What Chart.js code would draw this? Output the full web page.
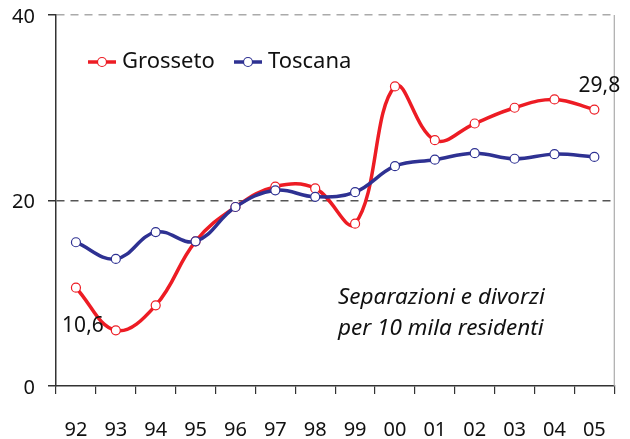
<!DOCTYPE html>
<html>
<head>
<meta charset="utf-8">
<title>Separazioni e divorzi</title>
<script src="https://cdn.jsdelivr.net/npm/chart.js"></script>
<style>
  html, body { margin: 0; padding: 0; background: #fff; }
  #wrap { width: 630px; height: 439px; }
</style>
</head>
<body>
<div id="wrap"><canvas id="chart"></canvas></div>
<script>
// dati: separazioni e divorzi per 10 mila residenti
const anni = ['92', '93', '94', '95', '96', '97', '98', '99', '00', '01', '02', '03', '04', '05'];
const grosseto = [10.6, 6.0, 8.7, 15.6, 19.3, 21.5, 21.3, 17.5, 32.3, 26.5, 28.3, 30.0, 30.9, 29.8];
const toscana = [15.5, 13.7, 16.6, 15.6, 19.3, 21.1, 20.4, 20.9, 23.7, 24.4, 25.1, 24.5, 25.0, 24.7];
const yTicks = [0, 20, 40];

const FONT = "'Noto Sans', 'Open Sans', sans-serif";
const ROSSO = '#ed1c24';
const BLU = '#2e3192';

function virgola(v) {
    return v.toFixed(1).replace('.', ',');
}

// bordo destro, legenda e scritte
const extra = {
    id: 'extra',
    beforeDatasetsDraw(chart) {
        const { ctx, chartArea } = chart;
        ctx.save();
        ctx.strokeStyle = '#aaa';
        ctx.lineWidth = 1.2;
        ctx.beginPath();
        ctx.moveTo(chartArea.right, chartArea.top);
        ctx.lineTo(chartArea.right, chartArea.bottom);
        ctx.stroke();
        ctx.restore();
    },
    afterDraw(chart) {
        const { ctx } = chart;
        const x = chart.scales.x, y = chart.scales.y;
        ctx.save();

        // legenda
        const voci = [
            { ds: chart.data.datasets[0], x0: 88 },
            { ds: chart.data.datasets[1], x0: 234 }
        ];
        voci.forEach(v => {
            const yl = 62;
            ctx.strokeStyle = v.ds.borderColor;
            ctx.lineWidth = 3.5;
            ctx.beginPath();
            ctx.moveTo(v.x0, yl);
            ctx.lineTo(v.x0 + 28, yl);
            ctx.stroke();
            ctx.beginPath();
            ctx.arc(v.x0 + 14, yl, 4.5, 0, Math.PI * 2);
            ctx.fillStyle = '#fff';
            ctx.fill();
            ctx.lineWidth = 1.2;
            ctx.stroke();
            ctx.fillStyle = '#111';
            ctx.font = '22px ' + FONT;
            ctx.textAlign = 'left';
            ctx.textBaseline = 'middle';
            ctx.fillText(v.ds.label, v.x0 + 34, yl);
        });

        // valori primo e ultimo anno
        ctx.font = '21px ' + FONT;
        ctx.fillStyle = '#111';
        ctx.textAlign = 'center';
        ctx.textBaseline = 'middle';
        ctx.fillText(virgola(grosseto[0]), x.getPixelForValue(0) + 7, y.getPixelForValue(grosseto[0]) + 38);
        const ultimo = grosseto.length - 1;
        ctx.fillText(virgola(grosseto[ultimo]), x.getPixelForValue(ultimo) + 5, y.getPixelForValue(grosseto[ultimo]) - 24);

        // nota
        ctx.font = 'italic 22.5px ' + FONT;
        ctx.textAlign = 'left';
        ctx.fillText('Separazioni e divorzi', 338, 298);
        ctx.fillText('per 10 mila residenti', 338, 329);
        ctx.restore();
    }
};

const chart = new Chart(document.getElementById('chart').getContext('2d'), {
    type: 'line',
    data: {
        labels: anni,
        datasets: [{
            label: 'Grosseto',
            data: grosseto,
            borderColor: ROSSO,
            backgroundColor: '#fff',
            borderWidth: 3.5,
            pointRadius: 4.5,
            pointBorderWidth: 1.2,
            pointBackgroundColor: '#fff',
            pointBorderColor: ROSSO,
            tension: 0.4,
            order: 2
        }, {
            label: 'Toscana',
            data: toscana,
            borderColor: BLU,
            backgroundColor: '#fff',
            borderWidth: 3.5,
            pointRadius: 4.5,
            pointBorderWidth: 1.2,
            pointBackgroundColor: '#fff',
            pointBorderColor: BLU,
            tension: 0.4,
            order: 1
        }]
    },
    options: {
        responsive: true,
        maintainAspectRatio: false,
        animation: false,
        layout: { padding: { top: 15, right: 5, left: 0, bottom: 0 } },
        plugins: {
            legend: { display: false },
            tooltip: { enabled: false }
        },
        scales: {
            x: {
                offset: true,
                grid: { drawOnChartArea: false, offset: true, tickLength: 8, color: '#333', lineWidth: 1.2 },
                border: { color: '#333', width: 1.5 },
                ticks: { padding: 24, color: '#111', font: { family: FONT, size: 20 }, maxRotation: 0, autoSkip: false },
                afterFit: s => { s.height = 53; }
            },
            y: {
                min: 0,
                max: 40,
                afterBuildTicks: s => { s.ticks = yTicks.map(v => ({ value: v })); },
                grid: {
                    color: c => c.tick && c.tick.value === 40 ? '#aaa' : (c.tick && c.tick.value === 20 ? '#555' : 'rgba(0,0,0,0)'),
                    tickColor: '#333',
                    tickLength: 8,
                    lineWidth: 1.5,
                    tickBorderDash: []
                },
                border: { color: '#333', width: 1.5, dash: [8, 6] },
                ticks: { padding: 13, labelOffset: 2, color: '#111', font: { family: FONT, size: 20 } },
                afterFit: s => { s.width = 56; s.paddingTop = 0; s.paddingBottom = 0; }
            }
        }
    },
    plugins: [extra]
});
</script>
</body>
</html>
